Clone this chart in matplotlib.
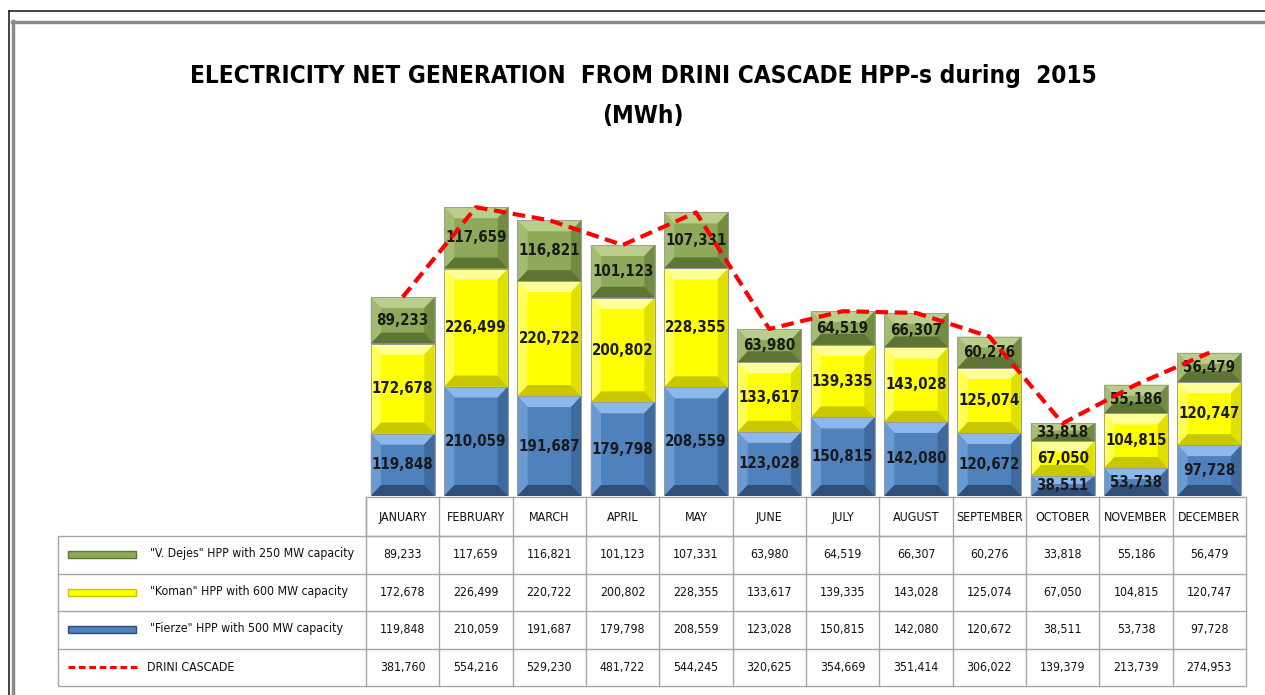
import matplotlib
matplotlib.use("Agg")
import matplotlib.pyplot as plt
from matplotlib.patches import Polygon, Rectangle
from matplotlib.lines import Line2D

# data (MWh)
months = ["JANUARY", "FEBRUARY", "MARCH", "APRIL", "MAY", "JUNE", "JULY",
          "AUGUST", "SEPTEMBER", "OCTOBER", "NOVEMBER", "DECEMBER"]
fierze = [119848, 210059, 191687, 179798, 208559, 123028, 150815, 142080, 120672, 38511, 53738, 97728]
koman = [172678, 226499, 220722, 200802, 228355, 133617, 139335, 143028, 125074, 67050, 104815, 120747]
dejes = [89233, 117659, 116821, 101123, 107331, 63980, 64519, 66307, 60276, 33818, 55186, 56479]
cascade = [381760, 554216, 529230, 481722, 544245, 320625, 354669, 351414, 306022, 139379, 213739, 274953]

series_names = ['"V. Dejes" HPP with 250 MW capacity',
                '"Koman" HPP with 600 MW capacity',
                '"Fierze" HPP with 500 MW capacity',
                'DRINI CASCADE']

# colour sets: face, top bevel, left, right, bottom bevel
green = ["#8EA95A", "#B9CE8A", "#A3BC72", "#728C42", "#5E7434"]
yellow = ["#FFFF00", "#FFFF99", "#FFFF55", "#E0E000", "#C8C800"]
blue = ["#4F81BD", "#8DB8EC", "#6A9AD2", "#3F6A9E", "#2F4F78"]

narrow = dict(family="DejaVu Sans", fontstretch="condensed")
W, H = 1265, 695


def fx(x):
    return x / W


def fy(y):
    return 1 - y / H


fig = plt.figure(figsize=(W / 100, H / 100), dpi=100)
fig.patch.set_facecolor("white")

# frame lines of the screenshot
fig.add_artist(Line2D([fx(9), 1], [fy(11), fy(11)], color="#222222", lw=1.2))
fig.add_artist(Line2D([fx(9), fx(9)], [fy(11), 0], color="#222222", lw=1.2))
fig.add_artist(Line2D([fx(12), 1], [fy(21.5), fy(21.5)], color="#8a8a8a", lw=2.5))
fig.add_artist(Line2D([fx(13), fx(13)], [fy(21), 0], color="#8a8a8a", lw=2.5))

# title
fig.text(fx(643), fy(76), "ELECTRICITY NET GENERATION  FROM DRINI CASCADE HPP-s during  2015",
         ha="center", va="center", fontsize=17.5, fontweight="bold", **narrow)
fig.text(fx(643), fy(116), "(MWh)", ha="center", va="center", fontsize=17.5,
         fontweight="bold", **narrow)

# bar area
ymax = 600000
top_px = 496 - ymax * 0.000521
ax = fig.add_axes([fx(366), fy(496), fx(1246) - fx(366), (496 - top_px) / H])
ax.set_xlim(-0.5, 11.5)
ax.set_ylim(0, ymax)
ax.axis("off")

x = list(range(len(months)))
px_y = ymax / (496 - top_px)  # data units per pixel
bottoms = [0] * len(months)
for vals, cols in [(fierze, blue), (koman, yellow), (dejes, green)]:
    bars = ax.bar(x, vals, width=0.87, bottom=bottoms, color=cols[0],
                  edgecolor="#9a9a9a", linewidth=0.6, zorder=2)
    for b, v in zip(bars, vals):
        x0, y0 = b.get_x(), b.get_y()
        x1, y1 = x0 + b.get_width(), y0 + b.get_height()
        dx = 0.14
        dy = min(11 * px_y, b.get_height() * 0.4)
        ax.add_patch(Polygon([(x0, y1), (x1, y1), (x1 - dx, y1 - dy), (x0 + dx, y1 - dy)],
                             closed=True, fc=cols[1], ec="none", zorder=3))
        ax.add_patch(Polygon([(x0, y0), (x0 + dx, y0 + dy), (x0 + dx, y1 - dy), (x0, y1)],
                             closed=True, fc=cols[2], ec="none", zorder=3))
        ax.add_patch(Polygon([(x1, y0), (x1 - dx, y0 + dy), (x1 - dx, y1 - dy), (x1, y1)],
                             closed=True, fc=cols[3], ec="none", zorder=3))
        ax.add_patch(Polygon([(x0, y0), (x1, y0), (x1 - dx, y0 + dy), (x0 + dx, y0 + dy)],
                             closed=True, fc=cols[4], ec="none", zorder=3))
        ax.add_patch(Rectangle((x0, y0), x1 - x0, y1 - y0, fc="none",
                               ec="#9a9a9a", lw=0.6, zorder=3))
        ax.text(b.get_x() + b.get_width() / 2, y0 + b.get_height() / 2, f"{v:,}",
                ha="center", va="center", fontsize=10.8, fontweight="bold",
                color="#1a1a1a", zorder=4, **narrow)
    bottoms = [a + v for a, v in zip(bottoms, vals)]

ax.plot(x, cascade, color="#FF0000", lw=3, ls=(0, (3, 1.6)), zorder=5)

# data table below the bars
tab = fig.add_axes([0, 0, 1, 1])
tab.set_xlim(0, W)
tab.set_ylim(H, 0)
tab.axis("off")

col_l, col_r = 366, 1246
cw = (col_r - col_l) / len(months)
head_t, head_b = 497, 536
row_h = (686 - head_b) / 4
grid = "#a6a6a6"

tab.add_patch(Rectangle((col_l, head_t), col_r - col_l, head_b - head_t, fc="none", ec=grid, lw=1))
tab.add_patch(Rectangle((58, head_b), col_r - 58, 686 - head_b, fc="none", ec=grid, lw=1))
for i in range(1, len(months)):
    tab.plot([col_l + i * cw] * 2, [head_t, 686], color=grid, lw=1)
tab.plot([col_l, col_l], [head_t, 686], color=grid, lw=1)
for r in range(1, 4):
    tab.plot([58, col_r], [head_b + r * row_h] * 2, color=grid, lw=1)

for i, m in enumerate(months):
    tab.text(col_l + (i + 0.5) * cw, (head_t + head_b) / 2 + 1, m, ha="center", va="center",
             fontsize=8.9, color="#111111", **narrow)

rows = [dejes, koman, fierze, cascade]
swatch = [green, yellow, blue, None]
for r, (name, vals, cols) in enumerate(zip(series_names, rows, swatch)):
    yc = head_b + (r + 0.5) * row_h
    if cols is None:
        tab.plot([68, 137], [yc, yc], color="#FF0000", lw=2.2, ls=(0, (2.2, 1.2)))
        tab.text(147, yc, name, ha="left", va="center", fontsize=8.8, color="#111111", **narrow)
    else:
        tab.add_patch(Rectangle((68, yc - 3.5), 68, 7, fc=cols[0], ec=cols[4], lw=1))
        tab.text(150, yc - 1, name, ha="left", va="center", fontsize=8.8, color="#111111", **narrow)
    for i, v in enumerate(vals):
        tab.text(col_l + (i + 0.5) * cw, yc, f"{v:,}", ha="center", va="center",
                 fontsize=8.8, color="#111111", **narrow)

fig.savefig("out.png", dpi=100)
